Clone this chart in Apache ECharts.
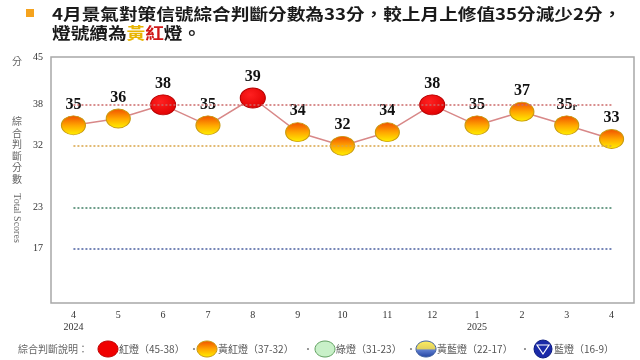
<!DOCTYPE html>
<html><head><meta charset="utf-8">
<script src="https://cdn.jsdelivr.net/npm/echarts@6/dist/echarts.min.js"></script>
<style>html,body{margin:0;padding:0;background:#fff}#c{width:640px;height:360px}</style>
</head><body><div id="c"></div>
<script>
const months = ['4','5','6','7','8','9','10','11','12','1','2','3','4'];
const years = {0:'2024', 9:'2025'};
const scores = [35,36,38,35,39,34,32,34,38,35,37,35,33];
const revisedIndex = 11;
const yTicks = [45,38,32,23,17];
const thresholds = [38,32,23,17];
const thresholdColors = ['#cc6a6a','#d9a445','#3f7f64','#4a5fa0'];

const chart = echarts.init(document.getElementById('c'), null, {renderer:'canvas'});
const CJK = '"Noto Sans CJK TC","Noto Sans CJK SC",sans-serif';
const SERIF = '"Liberation Serif","DejaVu Serif",serif';

const orangeFill = new echarts.graphic.LinearGradient(0,0,0,1,[
  {offset:0,color:'#f04e00'},{offset:0.5,color:'#ffa500'},{offset:1,color:'#fff200'}]);
const redFill = new echarts.graphic.RadialGradient(0.4,0.35,0.7,[
  {offset:0,color:'#ff2020'},{offset:1,color:'#e00000'}]);

const seriesData = scores.map((v,i)=>({
  value:v,
  symbolSize: v>=38 ? [25,20] : [24,19],
  itemStyle: v>=38 ? {color:redFill,borderColor:'#b80000',borderWidth:1}
                   : {color:orangeFill,borderColor:'#c89a10',borderWidth:1},
  label: i===revisedIndex ? {formatter:'{v|'+v+'}{r|r}'} : undefined
}));

const markData = thresholds.map((t,k)=>[
  {coord:[0,t],lineStyle:{color:thresholdColors[k],type:[2,2],width:1.5}},
  {coord:[months.length-1,t]}
]);

function ellipse(cx,cy,rx,ry,fill,stroke){
  return {type:'ellipse',shape:{cx,cy,rx,ry},style:{fill,stroke,lineWidth:1},silent:true};
}
function txt(x,y,t,opt){
  return Object.assign({type:'text',x,y,silent:true,style:Object.assign({text:t,font:'10px '+CJK,fill:'#555',verticalAlign:'middle'},opt||{})});
}
const ly = 349;
const graphics = [
  {type:'rect',shape:{x:26,y:9,width:8,height:8},style:{fill:'#f5a31e'}},
  {type:'text',x:52,y:14,scaleX:1.165,style:{text:'4月景氣對策信號綜合判斷分數為33分，較上月上修值35分減少2分，',font:'bold 16px '+CJK,fill:'#1a1a1a',verticalAlign:'middle'}},
  {type:'text',x:52,y:33,scaleX:1.165,style:{text:'燈號續為{y|黃}{r|紅}燈。',font:'bold 16px '+CJK,fill:'#1a1a1a',verticalAlign:'middle',
     rich:{y:{fill:'#e8b400',font:'bold 16px '+CJK},r:{fill:'#d01818',font:'bold 16px '+CJK}}}},
  txt(12,61,'分',{font:'10px '+CJK,fill:'#666'}),
  {type:'text',x:17,y:150,style:{text:'綜\n合\n判\n斷\n分\n數',font:'10px '+CJK,fill:'#666',align:'center',verticalAlign:'middle',lineHeight:11.5}},
  {type:'text',x:17,y:218,rotation:-Math.PI/2,style:{text:'Total Scores',font:'10px '+SERIF,fill:'#666',align:'center',verticalAlign:'middle'}},
  txt(18,ly,'綜合判斷說明：',{fill:'#666'}),
  ellipse(108,ly,10,8,'#f00000','#c00000'),
  txt(119,ly,'紅燈（45-38）'),
  txt(189,ly,'·',{fill:'#888'}),
  ellipse(207,ly,10,8,orangeFill,'#c89a10'),
  txt(218,ly,'黃紅燈（37-32）'),
  txt(303,ly,'·',{fill:'#888'}),
  ellipse(325,ly,10,8,'#c8f0c8','#60a060'),
  txt(336,ly,'綠燈（31-23）'),
  txt(406,ly,'·',{fill:'#888'}),
  ellipse(426,ly,10,8,new echarts.graphic.LinearGradient(0,0,0,1,[{offset:0,color:'#fff060'},{offset:0.5,color:'#e0d060'},{offset:0.55,color:'#6080d0'},{offset:1,color:'#2040a0'}]),'#4060a0'),
  txt(437,ly,'黃藍燈（22-17）'),
  txt(520,ly,'·',{fill:'#888'}),
  {type:'circle',shape:{cx:543,cy:ly,r:9},style:{fill:'#1a2aa8',stroke:'#0a1a80'},silent:true},
  {type:'polygon',shape:{points:[[537,ly-4],[549,ly-4],[543,ly+5]]},style:{fill:'#1a2aa8',stroke:'#ffffff',lineWidth:1.2},silent:true},
  txt(554,ly,'藍燈（16-9）')
];

chart.setOption({
  animation:false,
  backgroundColor:'#fff',
  grid:{left:51,right:6,top:57,bottom:57,show:true,borderColor:'#a8a8a8',borderWidth:1.5,backgroundColor:'transparent'},
  xAxis:{type:'category',data:months,boundaryGap:true,
    axisLine:{show:false},axisTick:{show:false},splitLine:{show:false},
    axisLabel:{margin:6,color:'#333',fontFamily:SERIF,fontSize:10,lineHeight:12,
      formatter:(v,i)=> years[i] ? v+'\n'+years[i] : v}},
  yAxis:{type:'value',min:9,max:45,interval:1,
    axisLine:{show:false},axisTick:{show:false},splitLine:{show:false},
    axisLabel:{margin:8,color:'#333',fontFamily:SERIF,fontSize:10,
      formatter:v=> yTicks.includes(v) ? String(v) : ''}},
  series:[{
    type:'line',data:seriesData,symbol:'circle',
    lineStyle:{color:'#d88888',width:1.5},
    label:{show:true,position:'top',distance:3,color:'#111',fontFamily:SERIF,fontWeight:'bold',fontSize:16,
      rich:{v:{fontFamily:SERIF,fontWeight:'bold',fontSize:16,color:'#111'},r:{fontFamily:SERIF,fontWeight:'bold',fontSize:10,color:'#111',padding:[6,0,0,0]}}},
    markLine:{silent:true,symbol:['none','none'],label:{show:false},data:markData},
    z:3
  }],
  graphic:graphics
});
</script></body></html>
